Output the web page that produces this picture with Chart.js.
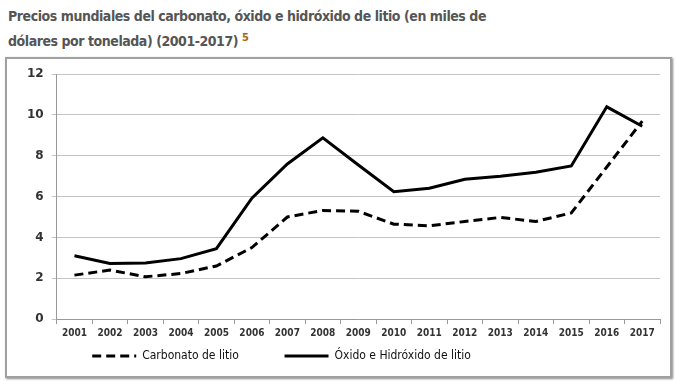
<!DOCTYPE html>
<html>
<head>
<meta charset="utf-8">
<script src="https://cdn.jsdelivr.net/npm/chart.js@4"></script>
<style>
  body { margin: 0; background: #fff; width: 676px; height: 382px; overflow: hidden; }
  h1 {
    position: absolute; left: 8px; top: 6px; margin: 0; width: 660px;
    font: bold 14px "DejaVu Sans Condensed", "DejaVu Sans", sans-serif;
    letter-spacing: -0.45px; line-height: 21px; color: #555;
  }
  h1 sup { color: #a5660f; font-size: 11px; vertical-align: 5px; letter-spacing: 0; }
  .box {
    position: absolute; left: 5px; top: 57px; width: 663px; height: 317px;
    border: 2px solid #a0a0a0; box-shadow: 1px 1px 2px #888;
  }
</style>
</head>
<body>
<h1>Precios mundiales del carbonato, óxido e hidróxido de litio (en miles de<br>dólares por tonelada) (2001-2017) <sup>5</sup></h1>
<div class="box"><canvas id="c" width="663" height="317"></canvas></div>
<script>
document.addEventListener("DOMContentLoaded", function () {
  const years = ['2001','2002','2003','2004','2005','2006','2007','2008','2009',
                 '2010','2011','2012','2013','2014','2015','2016','2017'];
  // Carbonato de litio (miles de USD / t)
  const carbonato = [2.15, 2.4, 2.07, 2.23, 2.6, 3.5, 5.0, 5.32, 5.28,
                     4.65, 4.57, 4.78, 4.98, 4.78, 5.2, 7.45, 9.7];
  // Óxido e hidróxido de litio
  const oxido = [3.1, 2.72, 2.75, 2.96, 3.45, 5.92, 7.6, 8.88, 7.55,
                 6.24, 6.41, 6.85, 7.0, 7.19, 7.5, 10.4, 9.45];

  const ctx = document.getElementById('c').getContext('2d');

  // the legend in the original sits left of centre
  const shiftLegend = {
    id: 'shiftLegend',
    afterLayout(chart) {
      chart.legend.left -= 58;
      chart.legend.right -= 58;
    }
  };

  new Chart(ctx, {
    type: 'line',
    data: {
      labels: years,
      datasets: [{
        label: 'Carbonato de litio',
        data: carbonato,
        borderColor: '#000',
        borderWidth: 3,
        borderDash: [9, 5],
        pointRadius: 0,
        tension: 0,
        fill: false
      }, {
        label: 'Óxido e Hidróxido de litio',
        data: oxido,
        borderColor: '#000',
        borderWidth: 3,
        pointRadius: 0,
        tension: 0,
        fill: false
      }]
    },
    options: {
      responsive: false,
      animation: false,
      layout: { padding: { left: 12, right: 10, top: 8, bottom: 4 } },
      scales: {
        x: {
          offset: true,
          grid: { display: true, drawOnChartArea: false, offset: true, color: '#999', tickLength: 5 },
          border: { color: '#999' },
          ticks: {
            color: '#333', maxRotation: 0, autoSkip: false,
            font: { family: 'Tahoma, "DejaVu Sans Condensed", sans-serif', size: 10, weight: 'bold' }
          }
        },
        y: {
          min: 0, max: 12,
          ticks: {
            stepSize: 2, color: '#333', padding: 8,
            font: { family: '"DejaVu Sans", sans-serif', size: 12, weight: 'bold' }
          },
          grid: { color: '#c4c4c4', tickLength: 5 },
          border: { color: '#999' }
        }
      },
      plugins: {
        legend: {
          position: 'bottom',
          labels: {
            usePointStyle: true,
            pointStyle: 'line',
            pointStyleWidth: 44,
            color: '#111',
            padding: 8,
            font: { family: '"Liberation Sans Narrow", "DejaVu Sans Condensed", sans-serif', size: 12 },
            generateLabels(chart) {
              const items = Chart.defaults.plugins.legend.labels.generateLabels(chart);
              items.forEach((it, i) => {
                const ds = chart.data.datasets[i];
                it.lineDash = ds.borderDash || [];
                it.lineWidth = ds.borderWidth;
                it.strokeStyle = ds.borderColor;
                it.pointStyle = 'line';
                if (i === 0) it.text = ds.label + '\u2003\u2003\u2003\u2002';
              });
              return items;
            }
          }
        },
        tooltip: { enabled: false }
      }
    },
    plugins: [shiftLegend]
  });
});
</script>
</body>
</html>
